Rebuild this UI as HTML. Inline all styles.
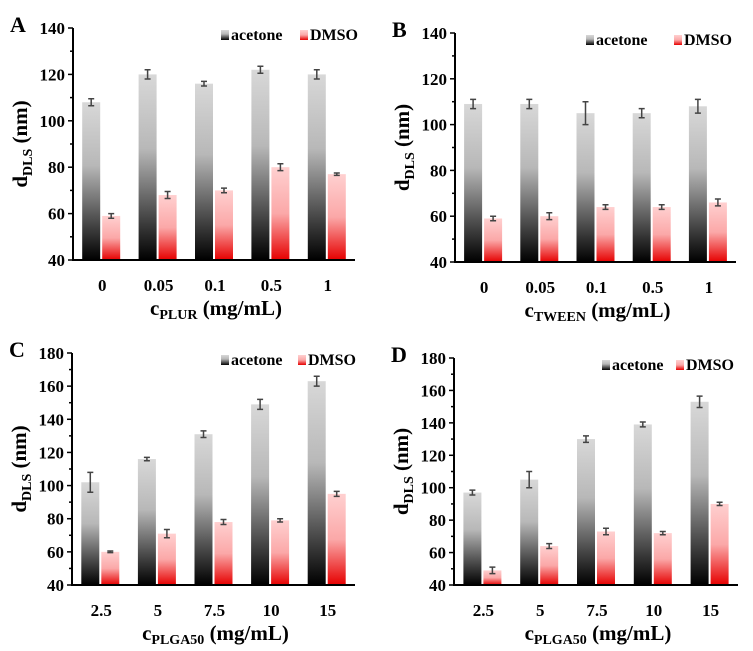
<!DOCTYPE html>
<html><head><meta charset="utf-8"><style>
body{margin:0;background:#fff;}
svg{display:block;font-family:"Liberation Serif",serif;font-weight:bold;}
</style></head><body>
<svg id="c" width="753" height="651">
<defs>
<linearGradient id="gA" x1="0" y1="0" x2="0" y2="1"><stop offset="0" stop-color="#d8d8d8"/><stop offset="0.4" stop-color="#b8b8b8"/><stop offset="1" stop-color="#000"/></linearGradient>
<linearGradient id="gD" x1="0" y1="0" x2="0" y2="1"><stop offset="0" stop-color="#ffd0d0"/><stop offset="0.5" stop-color="#fba8a8"/><stop offset="1" stop-color="#e60000"/></linearGradient>
</defs>
</svg>
<script>
const catsA=["0","0.05","0.1","0.5","1"];
const catsC=["2.5","5","7.5","10","15"];
const aceA=[108,120,116,122,120], aceAerr=[1.5,2,1,1.5,2];
const dmsA=[59,68,70,80,77], dmsAerr=[1,1.5,1,1.5,0.5];
const aceB=[109,109,105,105,108], aceBerr=[2,2,5,2,3];
const dmsB=[59,60,64,64,66], dmsBerr=[1,1.5,1,1,1.5];
const aceC=[102,116,131,149,163], aceCerr=[6,1,2,3,3];
const dmsC=[60,71,78,79,95], dmsCerr=[0.5,2.5,1.5,1,1.5];
const aceD=[97,105,130,139,153], aceDerr=[1.5,5,2,1.5,3.5];
const dmsD=[49,64,73,72,90], dmsDerr=[2,1.5,2,1,1];
const ticksAB=[40,60,80,100,120,140];
const ticksCD=[40,60,80,100,120,140,160,180];

const svg=document.getElementById('c');
const NS="http://www.w3.org/2000/svg";
function mk(t,a,txt){const e=document.createElementNS(NS,t);for(const k in a)e.setAttribute(k,a[k]);if(txt!==undefined)e.textContent=txt;svg.appendChild(e);return e;}

function panel(p){
  const ymin=p.ticks[0], ymax=p.ticks[p.ticks.length-1];
  const y=v=>p.y1-(v-ymin)/(ymax-ymin)*(p.y1-p.y0);
  const bw=(p.x1-p.x0)/p.cats.length;
  const cx=i=>p.x0+bw*(i+0.5);
  let e;
  e=mk('text',{x:p.x0-63,y:p.y0+4,'font-size':22});e.textContent=p.letter;
  
  for(let i=0;i<p.cats.length;i++){
    [[p.ace,p.aceE,'url(#gA)',-19,'acetone'],[p.dms,p.dmsE,'url(#gD)',1,'dmso']].forEach(s=>{
      const v=s[0][i], bx=cx(i)+s[3];
      e=mk('rect',{x:bx,y:y(v),width:18,height:p.y1-y(v),fill:s[2]});
      
      
      const mx=bx+9, t=y(v+s[1][i]), b=y(v-s[1][i]);
      e=mk('path',{d:`M${mx},${t}V${b}M${mx-3},${t}H${mx+3}M${mx-3},${b}H${mx+3}`,stroke:'#444','stroke-width':1.5,fill:'none'});
      
      
    });
    e=mk('text',{x:cx(i)+1,y:p.y1+31,'font-size':17,'text-anchor':'middle'},p.cats[i]);
    
    
  }
  e=mk('path',{d:`M${p.x0},${p.y0}V${p.y1}H${p.x1}`,stroke:'#000','stroke-width':2,fill:'none'});
  
  
  for(let v=ymin;v<=ymax;v+=10){
    const major=(v-ymin)%20===0;
    mk('line',{x1:p.x0-(major?5:3),x2:p.x0,y1:y(v),y2:y(v),stroke:'#000','stroke-width':1.5});
  }
  p.ticks.forEach(v=>{
    e=mk('text',{x:p.x0-8,y:y(v)+6,'font-size':17,'text-anchor':'end'},v);
    
    
  });
  const ty=(p.y0+p.y1)/2, tx=p.x0-46;
  e=mk('text',{x:0,y:0,'font-size':21,'text-anchor':'middle',transform:`translate(${tx},${ty}) rotate(-90)`});
  e.innerHTML='d<tspan font-size="14" dy="5">DLS</tspan><tspan dy="-5"> (nm)</tspan>';
  
  
  e=mk('text',{x:(p.x0+p.x1)/2+2,y:p.y1+55,'font-size':21,'text-anchor':'middle'});
  e.innerHTML='c<tspan font-size="14" dy="4">'+p.sub+'</tspan><tspan dy="-4"> (mg/mL)</tspan>';
  
  
  const lx=p.x1-p.legOff, ly=p.y0+12;
  e=mk('rect',{x:lx,y:ly-10,width:8,height:10,fill:'url(#gA)'});
  
  
  e=mk('text',{x:lx+10,y:ly,'font-size':16},'acetone');
  
  
  e=mk('rect',{x:lx+p.dOff,y:ly-10,width:8,height:10,fill:'url(#gD)'});
  
  
  e=mk('text',{x:lx+p.dOff+10,y:ly,'font-size':16},'DMSO');
  
  
}
panel({letter:'A',x0:73,x1:355,y0:28,y1:260,ticks:ticksAB,cats:catsA,ace:aceA,aceE:aceAerr,dms:dmsA,dmsE:dmsAerr,sub:'PLUR',legOff:134,dOff:79});
panel({letter:'B',x0:455,x1:736,y0:33,y1:262,ticks:ticksAB,cats:catsA,ace:aceB,aceE:aceBerr,dms:dmsB,dmsE:dmsBerr,sub:'TWEEN',legOff:150,dOff:88});
panel({letter:'C',x0:72,x1:355,y0:353,y1:585,ticks:ticksCD,cats:catsC,ace:aceC,aceE:aceCerr,dms:dmsC,dmsE:dmsCerr,sub:'PLGA50',legOff:134,dOff:77});
panel({letter:'D',x0:454,x1:738,y0:358,y1:585,ticks:ticksCD,cats:catsC,ace:aceD,aceE:aceDerr,dms:dmsD,dmsE:dmsDerr,sub:'PLGA50',legOff:136,dOff:74});
</script>
</body></html>
